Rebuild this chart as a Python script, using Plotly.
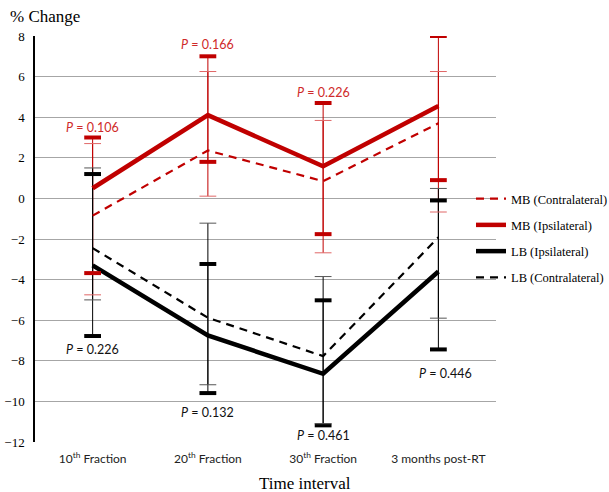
import plotly.graph_objects as go

categories = ["10<sup>th</sup> Fraction", "20<sup>th</sup> Fraction", "30<sup>th</sup> Fraction", "3 months post-RT"]

mb_contra = [-0.85, 2.36, 0.85, 3.7]
mb_contra_up = [2.7, 6.25, 3.84, 6.25]
mb_contra_lo = [-4.75, 0.11, -2.68, -0.67]

mb_ipsi = [0.5, 4.1, 1.58, 4.55]
mb_ipsi_up = [3.0, 7.0, 4.7, 8.0]
mb_ipsi_lo = [-3.68, 1.8, -1.76, 0.9]

lb_ipsi = [-3.3, -6.75, -8.64, -3.6]
lb_ipsi_up = [1.2, -3.23, -5.02, -0.1]
lb_ipsi_lo = [-6.78, -9.59, -11.18, -7.44]

lb_contra = [-2.45, -5.88, -7.77, -1.92]
lb_contra_up = [1.5, -1.22, -3.85, 0.49]
lb_contra_lo = [-5.0, -9.18, -11.1, -5.9]

mb_p_labels = ["0.106", "0.166", "0.226", "0.059"]
lb_p_labels = ["0.226", "0.132", "0.461", "0.446"]

# annotation anchor heights (label placement)
mb_p_y = [3.5, 7.6, 5.22, 8.47]
lb_p_y = [-7.42, -10.53, -11.67, -8.62]
lb_p_xshift = [0, 0, 0, 7]

RED = "#C00000"
RED_TXT = "#CF2A2A"
BLACK = "#000000"

series = [
    ("MB (Contralateral)", mb_contra, mb_contra_up, mb_contra_lo, RED, "dash", 2.2, False),
    ("MB (Ipsilateral)", mb_ipsi, mb_ipsi_up, mb_ipsi_lo, RED, "solid", 4.5, True),
    ("LB (Ipsilateral)", lb_ipsi, lb_ipsi_up, lb_ipsi_lo, BLACK, "solid", 4.5, True),
    ("LB (Contralateral)", lb_contra, lb_contra_up, lb_contra_lo, BLACK, "dash", 2.2, False),
]

fig = go.Figure()

# error bar stems
for name, mean, up, lo, col, dash, w, thick in series:
    fig.add_trace(go.Scatter(
        x=categories, y=mean, mode="none", showlegend=False, hoverinfo="skip",
        error_y=dict(type="data", symmetric=False,
                     array=[u - m for u, m in zip(up, mean)],
                     arrayminus=[m - l for m, l in zip(mean, lo)],
                     color=col, thickness=1, width=0),
    ))

# lines
for i, (name, mean, up, lo, col, dash, w, thick) in enumerate(series):
    fig.add_trace(go.Scatter(
        x=categories, y=mean, mode="lines", name=name, legendgroup=f"g{i}",
        line=dict(color=col, width=w, dash="8px,6px" if dash == "dash" else "solid"),
    ))

# caps
for name, mean, up, lo, col, dash, w, thick in series:
    capcol = col if thick else ("#E06666" if col == RED else "#555555")
    fig.add_trace(go.Scatter(
        x=categories + categories, y=up + lo, mode="markers", showlegend=False,
        hoverinfo="skip",
        marker=dict(symbol="line-ew", size=12,
                    line=dict(color=capcol, width=4 if thick else 1)),
    ))

annotations = []
for i, c in enumerate(categories):
    annotations.append(dict(x=c, y=mb_p_y[i], text=f"<i>P</i> = {mb_p_labels[i]}",
                            showarrow=False, font=dict(family="Lato", size=12.5, color=RED_TXT)))
    annotations.append(dict(x=c, y=lb_p_y[i], text=f"<i>P</i> = {lb_p_labels[i]}",
                            xshift=lb_p_xshift[i],
                            showarrow=False, font=dict(family="Lato", size=12.5, color="#111111")))

annotations.append(dict(xref="paper", yref="paper", x=-27/461, y=(442-16)/406,
                        xanchor="left", yanchor="middle", text="% Change", showarrow=False,
                        font=dict(family="Liberation Serif", size=17, color="#000")))
annotations.append(dict(xref="paper", yref="paper", x=(305-35)/461, y=-(483-442)/406,
                        xanchor="center", yanchor="middle", text="Time interval", showarrow=False,
                        font=dict(family="Liberation Serif", size=17, color="#000")))

fig.update_layout(
    width=609, height=492,
    margin=dict(l=35, r=113, t=36, b=50, autoexpand=False),
    paper_bgcolor="white", plot_bgcolor="white",
    showlegend=True,
    legend=dict(x=(471-35)/461, y=(442-184)/406, xanchor="left", yanchor="top",
                font=dict(family="Liberation Serif", size=12.5, color="#000"),
                traceorder="grouped", tracegroupgap=7, itemwidth=30,
                bgcolor="rgba(0,0,0,0)"),
    annotations=annotations,
    xaxis=dict(type="category", range=[-0.5, 3.5], showgrid=False, showline=False,
               zeroline=False, ticks="", ticklabelstandoff=8,
               tickfont=dict(family="Lato", size=12, color="#222")),
    yaxis=dict(range=[-12, 8], dtick=2, showgrid=True, gridcolor="#A6A6A6", gridwidth=1,
               zeroline=True, zerolinecolor="#A6A6A6", zerolinewidth=1,
               showline=True, linecolor="#000", linewidth=1.5, ticks="",
               ticklabelstandoff=6,
               tickfont=dict(family="Liberation Serif", size=13, color="#000")),
)

fig.write_html("out.html")
